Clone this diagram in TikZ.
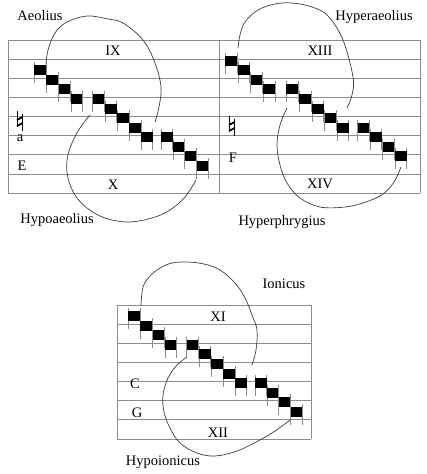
\documentclass[tikz,border=0pt]{standalone}
\usepackage{fontspec}
\setmainfont{Liberation Serif}
\usetikzlibrary{positioning}
\definecolor{staffgray}{HTML}{8C8C8C}
\definecolor{loopgray}{HTML}{3C3C3C}

\begin{document}
\begin{tikzpicture}[x=1pt, y=-1pt,
  staffline/.style={draw=staffgray, line width=0.9pt},
  stem/.style={draw=staffgray, line width=0.6pt},
  loop/.style={draw=loopgray, line width=0.7pt},
  natbar/.style={draw=black, line width=1.8pt},
  natstem/.style={draw=black, line width=0.6pt},
  lab/.style={font=\fontsize{14.5}{17}\selectfont, inner sep=0pt, anchor=base}]
\useasboundingbox (0,0) rectangle (427,474);
% staves
\foreach \y in {0,...,8}
  \draw[staffline] (8,40+19.15*\y) -- (420,40+19.15*\y);
\foreach \x in {8,219,420}
  \draw[staffline] (\x,40) -- (\x,193.2);
\foreach \y in {0,...,7}
  \draw[staffline] (117,305+19.15*\y) -- (311,305+19.15*\y);
\foreach \x in {117,311}
  \draw[staffline] (\x,305) -- (\x,439.05);
% notes
\foreach \xo/\yo/\so/\k in {40/40/3/0.99, 231/40/2/1.035, 134/305/1/0.99}
  \foreach \dx/\ds in {0/0, 12.3/1, 24.6/2, 37/3, 59/3, 71.5/4, 84/5,
                       96/6, 108/7, 128/7, 140/8, 152/9, 164/10} {
    \pgfmathsetmacro\nx{\xo+\k*\dx}
    \pgfmathsetmacro\ny{\yo+9.575*(\so+\ds)+1.5}
    \draw[stem] (\nx-5.8,\ny-8) -- (\nx-5.8,\ny+13);
    \draw[stem] (\nx+5.8,\ny-8) -- (\nx+5.8,\ny+13);
    \fill (\nx-5.8,\ny-5) rectangle (\nx+5.8,\ny+5);
  }
% naturals
\foreach \x/\y in {17/111, 229/116} {
  \draw[natstem] (\x,\y) -- (\x,\y+16);
  \draw[natstem] (\x+5.5,\y+3) -- (\x+5.5,\y+20);
  \draw[natbar] (\x,\y+9) -- (\x+5.5,\y+6);
  \draw[natbar] (\x,\y+15) -- (\x+5.5,\y+12);
}
% loops
\draw[loop] plot[smooth, tension=0.6] coordinates {(46,64) (48,50) (55,33)
  (67,22) (87,16) (108,19) (123,23) (143,40) (155,63) (161,87) (159,107) (155,122)};
\draw[loop] plot[smooth, tension=0.6] coordinates {(90,115) (80,128) (72,143)
  (67,160) (68,178) (75,195) (87,208) (105,218) (128,222) (152,218) (170,210)
  (185,197) (196,180)};
\draw[loop] plot[smooth, tension=0.6] coordinates {(238,48) (240,35) (245,22)
  (258,10) (275,4) (292,3) (312,7) (328,16) (343,40) (353,77) (352,95) (347,108)};
\draw[loop] plot[smooth, tension=0.6] coordinates {(287,108) (280,125) (277,145)
  (280,165) (287,183) (300,198) (320,207) (345,207) (366,202) (383,194)
  (394,182) (401,167)};
\draw[loop] plot[smooth, tension=0.6] coordinates {(141,305) (143,287) (150,276)
  (160,268) (172,263) (187,262) (204,264) (220,270) (235,283) (245,298)
  (252,315) (257,330) (256,350) (252,365)};
\draw[loop] plot[smooth, tension=0.6] coordinates {(187,357) (177,365) (168,378)
  (163,395) (164,412) (170,428) (180,443) (197,453) (215,456) (237,451)
  (258,441) (275,431) (290,420)};
% labels
\node[lab] (aeolius) at (40,20) {Aeolius};
\node[lab] (ix) at (113,55) {IX};
\node[lab] (x) at (113,189) {X};
\node[lab] (keye) at (22,170) {E};
\node[lab] (keya) at (20,141) {a};
\node[lab] (hypoaeolius) at (57,223) {Hypoaeolius};
\node[lab] (hyperaeolius) at (374,20) {Hyperaeolius};
\node[lab] (xiii) at (320,55) {XIII};
\node[lab] (xiv) at (320,188) {XIV};
\node[lab] (keyf) at (233,162) {F};
\node[lab] (hyperphrygius) at (282,225) {Hyperphrygius};
\node[lab] (ionicus) at (284,288) {Ionicus};
\node[lab] (xi) at (218,321) {XI};
\node[lab] (xii) at (218,437) {XII};
\node[lab] (keyc) at (135,388) {C};
\node[lab] (keyg) at (137,417) {G};
\node[lab] (hypoionicus) at (163,465) {Hypoionicus};
\end{tikzpicture}
\end{document}
